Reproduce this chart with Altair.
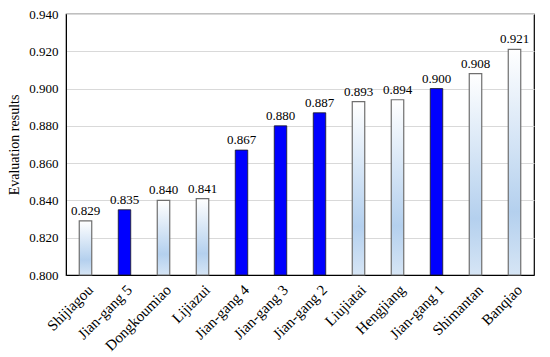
import altair as alt
import pandas as pd

stations = ["Shijiagou", "Jian-gang 5", "Dongkoumiao", "Lijiazui", "Jian-gang 4", "Jian-gang 3",
            "Jian-gang 2", "Liujiatai", "Hengjiang", "Jian-gang 1", "Shimantan", "Banqiao"]
scores = [0.829, 0.835, 0.840, 0.841, 0.867, 0.880, 0.887, 0.893, 0.894, 0.900, 0.908, 0.921]
kind = ["other", "jian", "other", "other", "jian", "jian", "jian", "other", "other", "jian", "other", "other"]

df = pd.DataFrame({"station": stations, "score": scores, "kind": kind})

font = "Liberation Serif"
x = alt.X("station:N", sort=stations, title=None,
          scale=alt.Scale(paddingInner=0.68, paddingOuter=0.34),
          axis=alt.Axis(labelAngle=-45, labelAlign="right", labelBaseline="top", ticks=False,
                        labelFontSize=15, labelFont=font, labelColor="black", domainColor="black",
                        labelPadding=7))
y = alt.Y("score:Q", title="Evaluation results",
          scale=alt.Scale(domain=[0.80, 0.94], nice=False, zero=False),
          axis=alt.Axis(values=[0.80, 0.82, 0.84, 0.86, 0.88, 0.90, 0.92, 0.94], format=".3f",
                        ticks=False, labelFontSize=13, labelFont=font, labelColor="black",
                        titleFont=font, titleFontSize=14, titleFontWeight="normal", titleColor="black",
                        gridColor="#d9d9d9", domainColor="black", labelPadding=8, titlePadding=7))

base = alt.Chart(df).encode(x=x, y=y, y2=alt.datum(0.80))

grad = alt.Gradient(gradient="linear", x1=0, y1=0, x2=0, y2=1,
                    stops=[alt.GradientStop(color="#ffffff", offset=0),
                           alt.GradientStop(color="#b4d0ee", offset=0.72),
                           alt.GradientStop(color="#d6e5f5", offset=1)])

light = base.transform_filter(alt.datum.kind == "other").mark_bar(
    color=grad, stroke="#6f6f6f", strokeWidth=1.2)
blue = base.transform_filter(alt.datum.kind == "jian").mark_bar(
    color="#0000ff", stroke="#1a1a1a", strokeWidth=0.8)
labels = alt.Chart(df).mark_text(dy=-10, font=font, fontSize=13, color="black").encode(
    x=x, y=y, text=alt.Text("score:Q", format=".3f"))

chart = (light + blue + labels).properties(
    width=468, height=261,
    autosize=alt.AutoSizeParams(type="none"),
    padding={"left": 58, "top": 6, "right": 8, "bottom": 80},
).configure_view(stroke="black", strokeWidth=1.2)

chart.save("out.html", embed_options={"renderer": "svg", "actions": False})
